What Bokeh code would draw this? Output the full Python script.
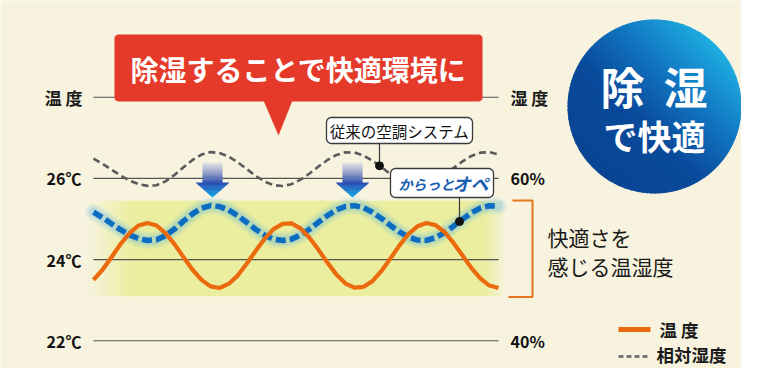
import math
import re
import numpy as np
from bokeh.plotting import figure
from bokeh.models import Range1d
from bokeh.core.properties import value
from bokeh.embed import file_html
from bokeh.resources import INLINE

# ---------------- data ----------------
time_steps = list(range(46))
temperature_c = [23.50, 23.75, 24.06, 24.38, 24.65, 24.84, 24.90, 24.84, 24.65, 24.38,
                 24.06, 23.75, 23.50, 23.34, 23.30, 23.40, 23.60, 23.89, 24.21, 24.51,
                 24.75, 24.88, 24.89, 24.77, 24.54, 24.24, 23.92, 23.63, 23.41, 23.31,
                 23.33, 23.47, 23.72, 24.03, 24.35, 24.63, 24.82, 24.90, 24.85, 24.68,
                 24.41, 24.10, 23.79, 23.53, 23.36, 23.30]
humidity_karatto = [55.84, 55.17, 54.42, 53.68, 53.04, 52.59, 52.36, 52.45, 52.94, 53.76,
                    54.73, 55.64, 56.33, 56.65, 56.53, 56.12, 55.43, 54.60, 53.74, 53.01,
                    52.52, 52.35, 52.52, 53.01, 53.74, 54.60, 55.43, 56.12, 56.54, 56.64,
                    56.39, 55.84, 55.07, 54.21, 53.40, 52.76, 52.40, 52.38, 52.71, 53.32,
                    54.12, 54.98, 55.76, 56.35, 56.63, 56.58]
humidity_conventional = [62.45, 61.80, 61.07, 60.36, 59.74, 59.30, 59.08, 59.16, 59.64, 60.43,
                         61.37, 62.27, 62.93, 63.24, 63.12, 62.71, 62.01, 61.17, 60.33, 59.62,
                         59.17, 59.06, 59.29, 59.84, 60.60, 61.46, 62.27, 62.89, 63.21, 63.19,
                         62.83, 62.19, 61.37, 60.51, 59.76, 59.25, 59.05, 59.21, 59.69, 60.42,
                         61.27, 62.10, 62.77, 63.17, 63.23, 62.94]
temp_ticks = [22, 24, 26]
temp_tick_labels = ["22℃", "24℃", "26℃"]
hum_ticks = [40, 60]
hum_tick_labels = ["40%", "60%"]
header_level_c = 28
comfort_range_c = [23.1, 25.45]
left_title = "温 度"
right_title = "湿 度"
banner_text = "除湿することで快適環境に"
badge_top = ["除", "湿"]
badge_bottom = "で快適"
callout_conventional = "従来の空調システム"
callout_brand = ["からっと", "オペ"]
comfort_text = ["快適さを", "感じる温湿度"]
legend_labels = ["温 度", "相対湿度"]

# ---------------- styling / helpers ----------------
BG = "#f7f3de"
BG_RGB = (247, 243, 222)
BAND = (235, 238, 158)
FONT = value("Noto Sans CJK JP")
ORANGE = "#ec6a0e"
BLUE = "#0b6cc2"
GREY = "#5a5a5a"

PX0, PX_STEP = 93.0, 9.0
PY_REF, T_REF, PX_PER_C = 218.5, 25.0, 40.6
W, H = 741, 368


def dx(px):
    return (px - PX0) / PX_STEP


def dy(py):
    return T_REF + (PY_REF - py) / PX_PER_C


def t2h(t):
    return 40 + (t - 22) * 5


def h2t(h):
    return 22 + (h - 40) / 5.0


def hexc(c):
    return "#%02x%02x%02x" % tuple(int(round(max(0, min(255, v)))) for v in c)


def mix(c0, c1, f):
    return tuple(c0[i] + (c1[i] - c0[i]) * f for i in range(3))


def ramp(stops, f):
    for i in range(len(stops) - 1):
        p0, c0 = stops[i]
        p1, c1 = stops[i + 1]
        if f <= p1:
            u = 0 if p1 == p0 else (f - p0) / (p1 - p0)
            return hexc(mix(c0, c1, max(0, min(1, u))))
    return hexc(stops[-1][1])


p = figure(width=W, height=H,
           x_range=Range1d(dx(0), dx(W)), y_range=Range1d(dy(H), dy(0)),
           output_backend="svg", toolbar_location=None, min_border=0,
           x_axis_location=None, y_axis_location=None,
           background_fill_color=BG, border_fill_color=BG, outline_line_color=None)
p.xgrid.visible = False
p.ygrid.visible = False
p.extra_y_ranges = {"hum": Range1d(t2h(dy(H)), t2h(dy(0)))}


def txt(px, py, s, size, color="#1a1a1a", align="left", style="normal"):
    p.text(x=[dx(px)], y=[dy(py)], text=[s], text_font=FONT,
           text_font_size=f"{size}px", text_color=color, text_align=align,
           text_baseline="middle", text_font_style=style)


def rrect(x0, y0, x1, y1, r, n=7):
    pts = []
    corners = [(x1 - r, y0 + r, -90, 0), (x1 - r, y1 - r, 0, 90),
               (x0 + r, y1 - r, 90, 180), (x0 + r, y0 + r, 180, 270)]
    for cx, cy, a0, a1 in corners:
        for a in np.linspace(a0, a1, n):
            pts.append((cx + r * math.cos(math.radians(a)), cy + r * math.sin(math.radians(a))))
    return [dx(x) for x, _ in pts], [dy(y) for _, y in pts]


# ---------------- comfort band ----------------
t_left, t_right = time_steps[0], time_steps[-1]
band_bottom, band_top = comfort_range_c
p.quad(left=[dx(132)], right=[dx(483)], bottom=[band_bottom], top=[band_top],
       fill_color=hexc(BAND), line_color=None)
fl, fr, fc = [], [], []
for px in np.arange(86, 133, 2.0):
    f = (px - 86) / 46.0
    fl.append(dx(px)); fr.append(dx(px + 2.6)); fc.append(hexc(mix(BG_RGB, BAND, f)))
for px in np.arange(482, 501, 2.0):
    f = 1 - 0.75 * (px - 482) / 18.0
    fl.append(dx(px)); fr.append(dx(px + 2.6)); fc.append(hexc(mix(BG_RGB, BAND, f)))
p.quad(left=fl, right=fr, bottom=band_bottom, top=band_top, fill_color=fc, line_color=None)

# ---------------- reference lines ----------------
levels = temp_ticks + [header_level_c]
p.segment(x0=[t_left] * len(levels), x1=[t_right] * len(levels), y0=levels, y1=levels,
          line_color="#555555", line_width=1.1)

# ---------------- conventional humidity ----------------
p.line(time_steps, humidity_conventional, y_range_name="hum", line_color=GREY,
       line_width=2.6, line_dash="7 4")

# ---------------- arrows ----------------
for cxp in (212, 352):
    n = 12
    xs, ys, cs = [], [], []
    for i in range(n):
        y0 = 162 + i * 20.0 / n
        y1 = y0 + 20.0 / n + 0.6
        xs.append([dx(cxp - 10), dx(cxp + 10), dx(cxp + 10), dx(cxp - 10)])
        ys.append([dy(y0), dy(y0), dy(y1), dy(y1)])
        cs.append(ramp([(0, (226, 226, 230)), (0.5, (150, 160, 200)), (1, (60, 90, 178))], i / (n - 1)))
    for i in range(n):
        y0 = 182 + i * 15.0 / n
        y1 = min(197, y0 + 15.0 / n + 0.5)
        h0 = 17 * (197 - y0) / 15.0
        h1 = 17 * (197 - y1) / 15.0
        xs.append([dx(cxp - h0), dx(cxp + h0), dx(cxp + h1), dx(cxp - h1)])
        ys.append([dy(y0), dy(y0), dy(y1), dy(y1)])
        cs.append(ramp([(0, (42, 78, 180)), (1, (20, 170, 230))], i / (n - 1)))
    p.patches(xs, ys, fill_color=cs, line_color=None)

# ---------------- karatto humidity (soft glow + dashed) ----------------
for lw, la in ((17, 0.10), (13, 0.14), (9, 0.20)):
    p.line(time_steps, humidity_karatto, y_range_name="hum", line_color="#5fb6e4",
           line_width=lw, line_alpha=la, line_join="round", line_cap="round")
p.line(time_steps, humidity_karatto, y_range_name="hum", line_color=BLUE,
       line_width=5.5, line_dash="10 4")

# ---------------- temperature ----------------
p.line(time_steps, temperature_c, line_color=ORANGE, line_width=4.2, line_join="round")

# ---------------- callouts ----------------
bx, by = rrect(326, 117, 472, 143, 5)
p.patch(bx, by, fill_color="white", line_color="#3a3a3a", line_width=1.3)
txt(399, 130.5, callout_conventional, 15.5, color="#111111", align="center")
t_dot1 = dx(379)
h_dot1 = float(np.interp(t_dot1, time_steps, humidity_conventional))
p.segment(x0=[dx(379)], x1=[dx(379)], y0=[dy(143)], y1=[h2t(h_dot1)], line_color="#3a3a3a", line_width=1.2)
p.scatter([t_dot1], [h_dot1], y_range_name="hum", size=8, color="#111111")

bx, by = rrect(390, 168, 493, 197, 5)
p.patch(bx, by, fill_color="white", line_color="#3a3a3a", line_width=1.3)
txt(398, 183, callout_brand[0], 14, color="#1b5db3", style="bold italic")
txt(452, 182.5, callout_brand[1], 18, color="#1b5db3", style="bold italic")
t_dot2 = dx(459)
h_dot2 = float(np.interp(t_dot2, time_steps, humidity_karatto))
p.segment(x0=[dx(459)], x1=[dx(459)], y0=[dy(197)], y1=[h2t(h_dot2)], line_color="#3a3a3a", line_width=1.2)
p.scatter([t_dot2], [h_dot2], y_range_name="hum", size=8, color="#111111")

# ---------------- red banner ----------------
bx, by = rrect(114, 34, 482, 101, 4)
p.patch(bx, by, fill_color="#e53a29", line_color=None)
p.patch([dx(263), dx(292), dx(278)], [dy(100), dy(100), dy(135)], fill_color="#e53a29", line_color=None)
txt(298, 68.5, banner_text, 28, color="white", align="center", style="bold")

# ---------------- badge circle ----------------
cx, cy, R = 654.0, 106.0, 87.0
u = np.array([-1.0, 1.0]) / math.sqrt(2)
v = np.array([1.0, 1.0]) / math.sqrt(2)
N = 60
edges = np.linspace(-R, R, N + 1)
cxs, cys, ccs = [], [], []
stops = [(0, (30, 175, 225)), (0.3, (18, 120, 195)), (0.62, (10, 74, 155)), (1, (10, 68, 148))]
for i in range(N):
    s0 = max(-R, edges[i] - 0.5)
    s1 = min(R, edges[i + 1] + 0.5)
    ss = np.linspace(s0, s1, 8)
    w = np.sqrt(np.maximum(R * R - ss * ss, 0))
    fwd = [(cx + s * u[0] + ww * v[0], cy + s * u[1] + ww * v[1]) for s, ww in zip(ss, w)]
    bwd = [(cx + s * u[0] - ww * v[0], cy + s * u[1] - ww * v[1]) for s, ww in zip(ss[::-1], w[::-1])]
    pts = fwd + bwd
    cxs.append([dx(a) for a, _ in pts])
    cys.append([dy(b) for _, b in pts])
    ccs.append(ramp(stops, (0.5 * (s0 + s1) + R) / (2 * R)))
p.patches(cxs, cys, fill_color=ccs, line_color=None)
txt(622, 85, badge_top[0], 44, color="white", align="center", style="bold")
txt(685, 85, badge_top[1], 44, color="white", align="center", style="bold")
txt(654, 134.5, badge_bottom, 34, color="white", align="center", style="bold")

# ---------------- axis labels ----------------
txt(82, 96.5, left_title, 17, align="right", style="bold")
p.text(x=[dx(81)] * len(temp_ticks), y=temp_ticks, text=temp_tick_labels, text_font=FONT,
       text_font_size="16px", text_color="#111111", text_align="right",
       text_baseline="middle", text_font_style="bold")
txt(510, 96.5, right_title, 17, align="left", style="bold")
p.text(x=[dx(510)] * len(hum_ticks), y=hum_ticks, text=hum_tick_labels, text_font=FONT,
       y_range_name="hum", text_font_size="16px", text_color="#111111", text_align="left",
       text_baseline="middle", text_font_style="bold")

# ---------------- comfort bracket ----------------
p.line([dx(512), dx(532), dx(532), dx(508)], [dy(200), dy(200), dy(296.5), dy(296.5)],
       line_color="#e8741c", line_width=2)
txt(547, 236, comfort_text[0], 21, color="#1a1a1a")
txt(547, 265, comfort_text[1], 21, color="#1a1a1a")

# ---------------- legend ----------------
p.segment(x0=[dx(618)], x1=[dx(650)], y0=[dy(329)], y1=[dy(329)], line_color=ORANGE, line_width=5)
txt(659, 328.5, legend_labels[0], 17.5, style="bold")
p.segment(x0=[dx(618)], x1=[dx(649)], y0=[dy(356)], y1=[dy(356)], line_color="#666666",
          line_width=2.6, line_dash="5 3")
txt(656, 354, legend_labels[1], 17.5, style="bold")

html = file_html(p, INLINE, title="除湿で快適")
if "<body>" in html:
    html = html.replace("<body>", f'<body style="background-color:{BG};">', 1)
else:
    html = re.sub(r"<body([^>]*)>", lambda m: f'<body{m.group(1)} style="background-color:{BG};">', html, count=1)
open("out.html", "w").write(html)
